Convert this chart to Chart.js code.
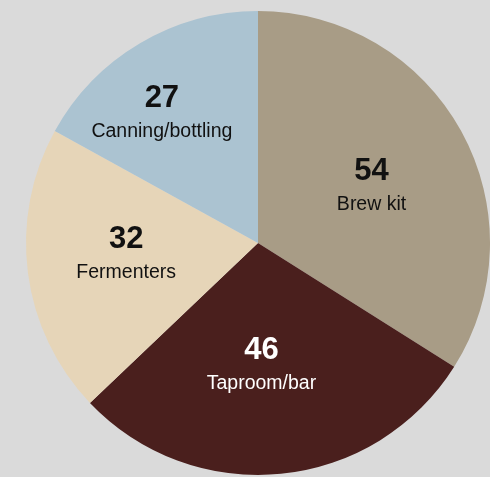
<!DOCTYPE html>
<html><head><meta charset="utf-8">
<script src="https://cdn.jsdelivr.net/npm/chart.js@4"></script>
<style>html,body{margin:0;padding:0;background:#dadada;}#wrap{width:490px;height:477px;}</style>
</head><body><div id="wrap"><canvas id="c" width="490" height="477"></canvas></div>
<script>
const categories = ["Brew kit", "Taproom/bar", "Fermenters", "Canning/bottling"];
const values = [54, 46, 32, 27];
const colors = ["#a89c86", "#4a1f1d", "#e6d5b8", "#abc3d1"];
const textColors = ["#111111", "#ffffff", "#111111", "#111111"];
const labelRadius = [0.55, 0.52, 0.57, 0.70];
const labelAngleShift = [0.03, 0.07, 0.05, -0.1];

const labelPlugin = {
  id: 'labels',
  afterDatasetsDraw(chart) {
    const ctx = chart.ctx;
    const meta = chart.getDatasetMeta(0);
    meta.data.forEach((arc, i) => {
      const p = arc.getProps(['x','y','startAngle','endAngle','outerRadius'], true);
      const a = (p.startAngle + p.endAngle) / 2 + labelAngleShift[i];
      const r = p.outerRadius * labelRadius[i];
      const cx = p.x + Math.cos(a) * r;
      const cy = p.y + Math.sin(a) * r;
      ctx.save();
      ctx.fillStyle = textColors[i];
      ctx.textAlign = 'center';
      ctx.textBaseline = 'alphabetic';
      ctx.font = 'bold 31px "Liberation Sans", Arial, sans-serif';
      ctx.fillText(String(values[i]), cx, cy - 5);
      ctx.font = '19.5px "Liberation Sans", Arial, sans-serif';
      ctx.fillText(categories[i], cx, cy + 25);
      ctx.restore();
    });
  }
};

new Chart(document.getElementById('c'), {
  type: 'pie',
  data: { labels: categories, datasets: [{ data: values, backgroundColor: colors, borderWidth: 0 }] },
  options: {
    responsive: false,
    animation: false,
    layout: { padding: { left: 26, right: 0, top: 11, bottom: 2 } },
    plugins: { legend: { display: false }, tooltip: { enabled: false } }
  },
  plugins: [labelPlugin]
});
</script></body></html>
